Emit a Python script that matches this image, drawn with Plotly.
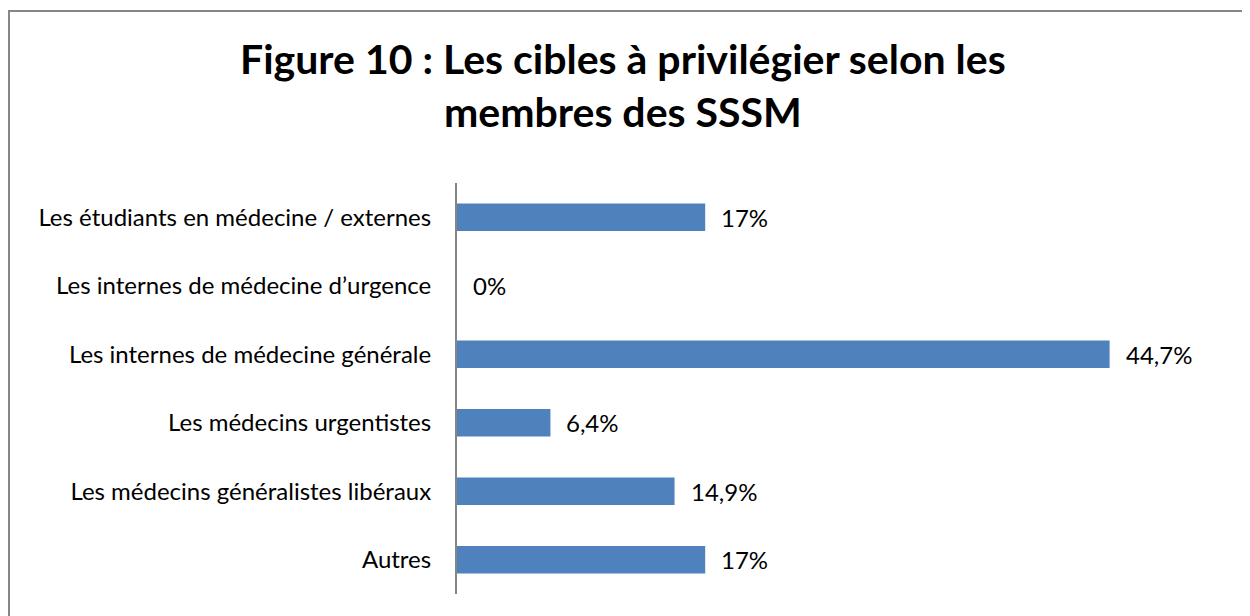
import plotly.graph_objects as go

categories = [
    "Les étudiants en médecine / externes",
    "Les internes de médecine d’urgence",
    "Les internes de médecine générale",
    "Les médecins urgentistes",
    "Les médecins généralistes libéraux",
    "Autres",
]
values = [17, 0, 44.7, 6.4, 14.9, 17]
labels = ["17%", "0%", "44,7%", "6,4%", "14,9%", "17%"]
title_lines = ["Figure 10 : Les cibles à privilégier selon les", "membres des SSSM"]

OFF = 8  # page offset
W, H = 1250 - OFF, 616 - OFF
ml, mt = 457 - OFF, 183 - OFF
mr = W - (1187 - OFF)
mb = H - (594 - OFF)
pw, ph = W - ml - mr, H - mt - mb

FONT = "Lato"
FS = 24

fig = go.Figure(go.Bar(
    x=values, y=categories, orientation="h",
    marker=dict(color="#4F81BD", line=dict(width=0)),
    hoverinfo="skip",
))

for v, c, t in zip(values, categories, labels):
    fig.add_annotation(x=v, y=c, text=t, showarrow=False, xanchor="left",
                       xshift=14, font=dict(family=FONT, size=FS, color="#000000"))

# title (page y centre of the two-line block ~85)
fig.add_annotation(xref="paper", yref="paper",
                   x=(623 - OFF - ml) / pw, y=1 + (mt - (85 - OFF)) / ph,
                   xanchor="center", yanchor="middle", showarrow=False,
                   text="<b>" + "<br>".join(title_lines) + "</b>",
                   font=dict(family=FONT, size=41, color="#000000"))

# outer border
fig.add_shape(type="rect", xref="paper", yref="paper",
              x0=(9 - OFF - ml) / pw, x1=(1256 - OFF - ml) / pw,
              y0=(H - mb - 625) / ph, y1=(H - mb - (11 - OFF)) / ph,
              line=dict(color="#868686", width=2), fillcolor="rgba(0,0,0,0)", layer="below")

fig.update_layout(
    width=W, height=H,
    margin=dict(l=ml, r=mr, t=mt, b=mb),
    paper_bgcolor="white", plot_bgcolor="white",
    bargap=0.6,
    showlegend=False,
    font=dict(family=FONT, size=FS, color="#000000"),
)
fig.update_xaxes(range=[0, 50], visible=False, fixedrange=True)
fig.update_yaxes(autorange="reversed", showline=True, linecolor="#868686", linewidth=2,
                 ticks="", showgrid=False, ticklabelstandoff=19,
                 tickfont=dict(family=FONT, size=FS, color="#000000"))

fig.write_html("out.html")
